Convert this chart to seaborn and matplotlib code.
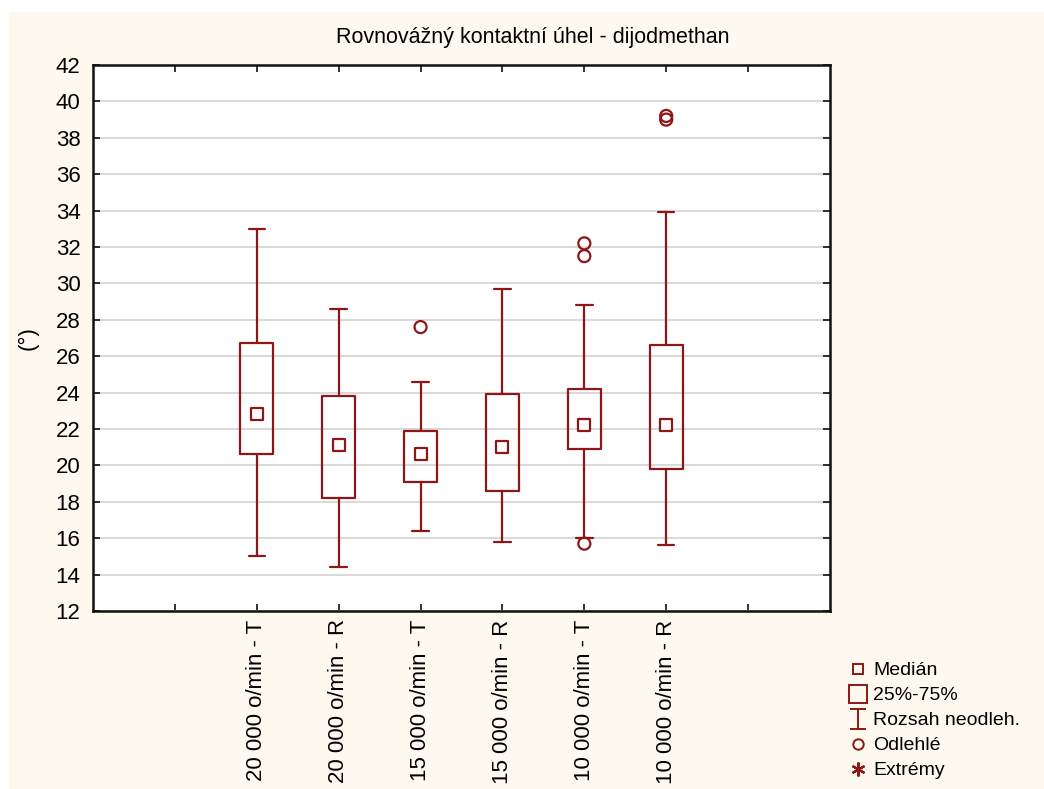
import matplotlib
matplotlib.use("Agg")
import matplotlib.pyplot as plt
import seaborn as sns
import numpy as np
import pandas as pd
from matplotlib.lines import Line2D
from matplotlib.patches import Rectangle
from matplotlib.path import Path

# ---- data ----
categories = ["20 000 o/min - T", "20 000 o/min - R", "15 000 o/min - T",
              "15 000 o/min - R", "10 000 o/min - T", "10 000 o/min - R"]
medians = [22.8, 21.1, 20.6, 21.0, 22.2, 22.2]
q1 = [20.6, 18.2, 19.1, 18.6, 20.9, 19.8]
q3 = [26.7, 23.8, 21.9, 23.9, 24.2, 26.6]
whisker_low = [15.0, 14.4, 16.4, 15.8, 16.0, 15.6]
whisker_high = [33.0, 28.6, 24.6, 29.7, 28.8, 33.9]
outliers = [[], [], [27.6], [], [32.2, 31.5, 15.7], [39.2, 39.0]]
y_ticks = list(range(12, 43, 2))

title = "Rovnovážný kontaktní úhel - dijodmethan"
ylabel = "(°)"
legend_labels = ["Medián", "25%-75%", "Rozsah neodleh.", "Odlehlé", "Extrémy"]

# ---- style ----
sns.set_style("white")
plt.rcParams["font.family"] = ["Liberation Sans", "DejaVu Sans"]
plt.rcParams["text.color"] = "black"
plt.rcParams["axes.labelcolor"] = "black"
plt.rcParams["xtick.color"] = "black"
plt.rcParams["ytick.color"] = "black"

RED = "#8E1616"
CREAM = "#FEF9EE"
FS = 16

fig = plt.figure(figsize=(10.44, 7.89), dpi=100, facecolor="white")
fig.patches.append(Rectangle((9 / 1044, 0), 1, 1 - 12 / 789, transform=fig.transFigure,
                             facecolor=CREAM, edgecolor="none", zorder=-10))
ax = fig.add_axes([93 / 1044, 1 - 611 / 789, (830 - 93) / 1044, (611 - 65) / 789])
ax.set_facecolor("white")

positions = list(range(len(categories)))
stats = []
for i in positions:
    stats.append(dict(med=medians[i], q1=q1[i], q3=q3[i],
                      whislo=whisker_low[i], whishi=whisker_high[i], fliers=[]))
ax.bxp(stats, positions=positions, widths=0.4, capwidths=0.2, showfliers=False,
       boxprops=dict(color=RED, linewidth=1.6),
       whiskerprops=dict(color=RED, linewidth=1.6),
       capprops=dict(color=RED, linewidth=1.6),
       medianprops=dict(linewidth=0, color="none"),
       manage_ticks=False, zorder=3)

med_df = pd.DataFrame({"x": positions, "y": medians})
sns.scatterplot(data=med_df, x="x", y="y", marker="s", s=75, facecolor="white",
                edgecolor=RED, linewidth=1.6, ax=ax, zorder=4)

ox, oy = [], []
for i, vals in enumerate(outliers):
    for v in vals:
        ox.append(i)
        oy.append(v)
out_df = pd.DataFrame({"x": ox, "y": oy})
sns.scatterplot(data=out_df, x="x", y="y", marker="o", s=75, facecolor="none",
                edgecolor=RED, linewidth=1.6, ax=ax, zorder=4)

ax.set_xlim(-2, 7)
ax.set_ylim(12, 42)
ax.set_yticks(y_ticks)
ax.set_yticklabels([str(t) for t in y_ticks], fontsize=FS)
ax.set_xticks(list(range(-1, 7)))
ax.set_xticklabels([""] + categories + [""], rotation=90, fontsize=FS, va="top", ha="center")
ax.tick_params(axis="both", direction="in", length=5, width=1.2, color="#111111",
               top=True, right=True, left=True, bottom=True, pad=6)
ax.tick_params(axis="y", pad=9)
ax.yaxis.grid(True, color="#DADADA", linewidth=1.5)
ax.set_axisbelow(True)
for sp in ax.spines.values():
    sp.set_color("#111111")
    sp.set_linewidth(1.8)
ax.set_xlabel("")
ax.set_ylabel(ylabel, fontsize=FS, labelpad=12)
fig.text(533 / 1044, 1 - 38 / 789, title, fontsize=15.5, ha="center", va="center")

# ---- legend ----
whisk_path = Path([(-0.8, 1), (0.8, 1), (0, 1), (0, -1), (-0.8, -1), (0.8, -1)],
                  [Path.MOVETO, Path.LINETO, Path.MOVETO, Path.LINETO, Path.MOVETO, Path.LINETO])
handles = [
    Line2D([], [], linestyle="none", marker="s", markersize=7.5, markerfacecolor="none",
           markeredgecolor=RED, markeredgewidth=1.4),
    Line2D([], [], linestyle="none", marker="s", markersize=13, markerfacecolor="none",
           markeredgecolor=RED, markeredgewidth=1.4),
    Line2D([], [], linestyle="none", marker=whisk_path, markersize=15, markerfacecolor="none",
           markeredgecolor=RED, markeredgewidth=1.4),
    Line2D([], [], linestyle="none", marker="o", markersize=7.5, markerfacecolor="none",
           markeredgecolor=RED, markeredgewidth=1.4),
    Line2D([], [], linestyle="none", marker=(6, 2, 0), markersize=10,
           markeredgecolor=RED, markeredgewidth=1.6),
]
fig.legend(handles, legend_labels, loc="upper left", bbox_to_anchor=(840 / 1044, 1 - 654 / 789),
           frameon=False, fontsize=14, handlelength=1.0, handletextpad=0.3,
           labelspacing=0.38, borderaxespad=0)

fig.savefig("out.png", dpi=100, facecolor=fig.get_facecolor())
